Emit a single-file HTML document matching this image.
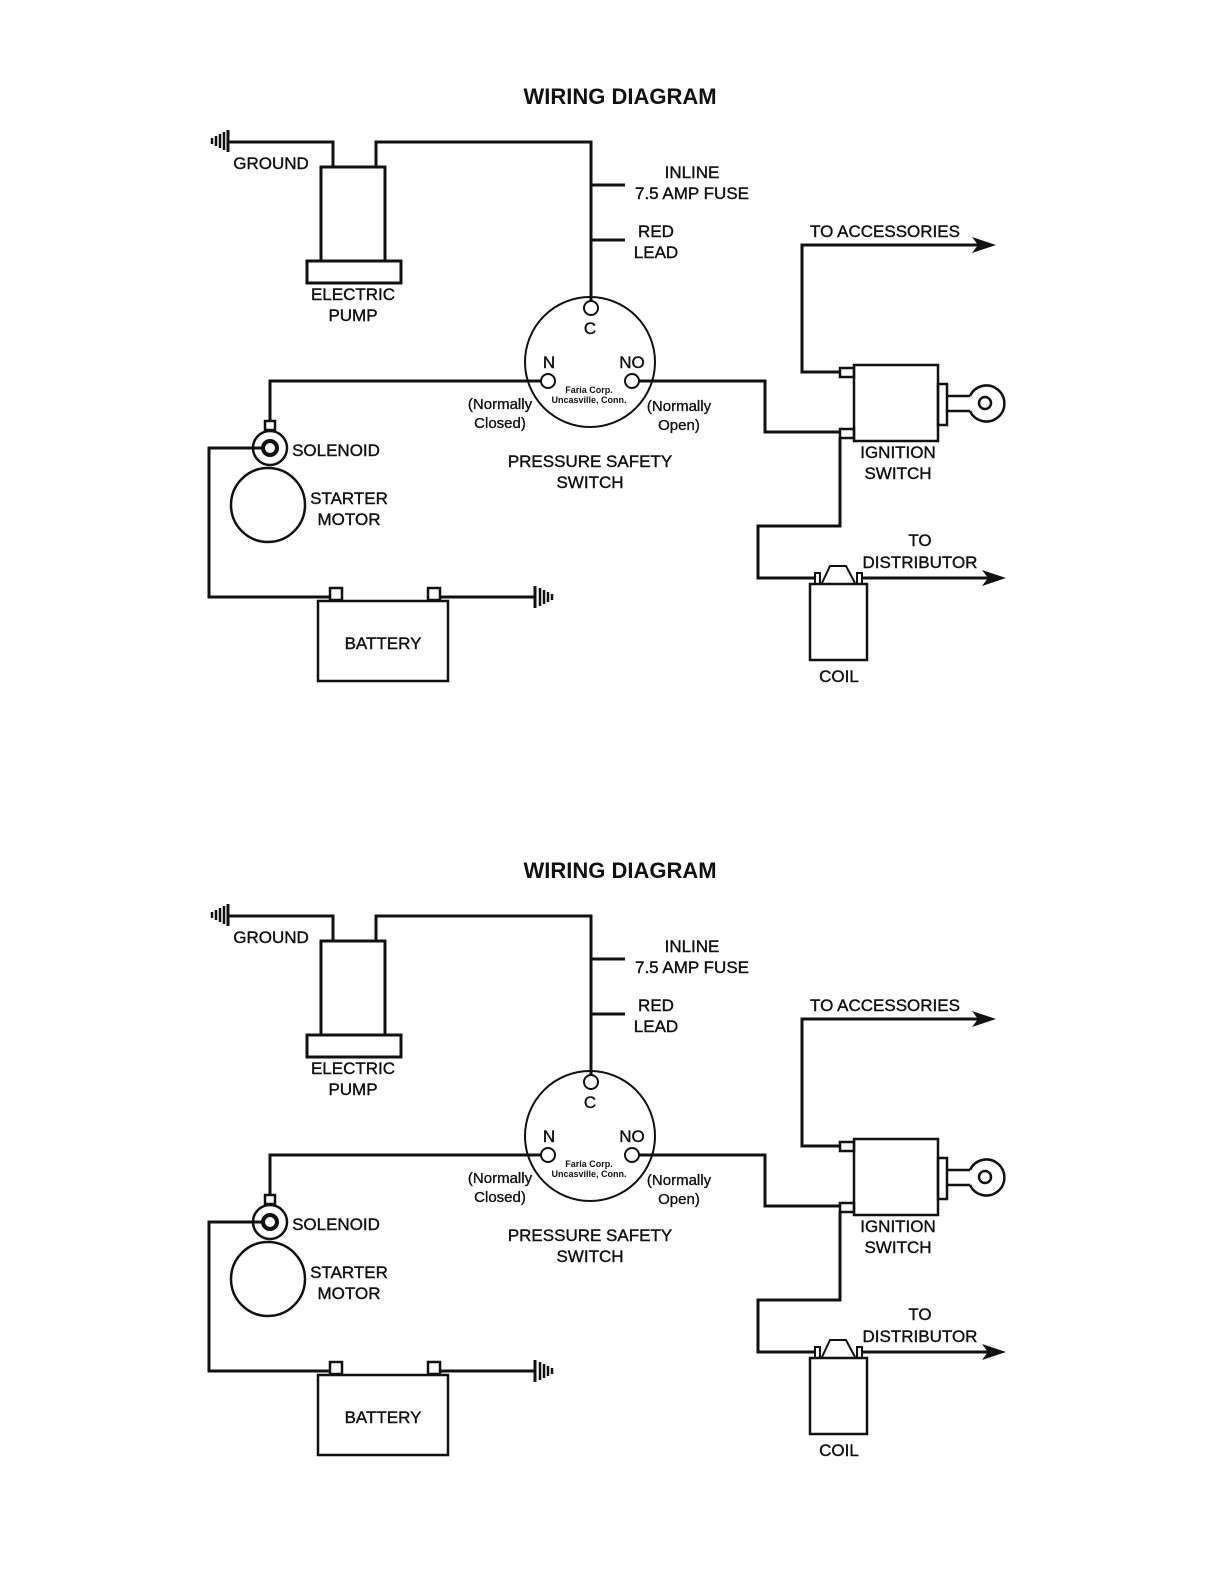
<!DOCTYPE html>
<html><head><meta charset="utf-8"><style>
html,body{margin:0;padding:0;background:#fff;width:1224px;height:1584px;overflow:hidden}
svg{display:block;position:absolute;left:0;top:0}
text{font-family:"Liberation Sans",Arial,sans-serif;fill:#111;text-anchor:middle}
.l{font-size:17px;stroke:#111;stroke-width:0.4}
.s{font-size:15px;stroke:#111;stroke-width:0.35}
.t{font-size:9px;font-weight:bold}
</style></head><body>
<svg width="1224" height="1584" xmlns="http://www.w3.org/2000/svg">
<defs>
<g id="d" fill="none" stroke="#111" stroke-width="3">
  <text x="620" y="104" style="font-size:22px;font-weight:bold;stroke:none">WIRING DIAGRAM</text>
  <g stroke-width="2.5"><line x1="212" y1="138" x2="212" y2="144"/><line x1="216" y1="136" x2="216" y2="146"/><line x1="220" y1="134" x2="220" y2="148"/><line x1="224" y1="132" x2="224" y2="150"/></g>
  <line x1="228" y1="130" x2="228" y2="152" stroke-width="3"/>
  <polyline points="228,142 333,142 333,167"/>
  <rect x="321" y="167" width="64" height="94" fill="#fff"/>
  <rect x="307" y="261" width="94" height="22" fill="#fff"/>
  <polyline points="376,167 376,142 591,142 591,301"/>
  <line x1="591" y1="185" x2="625" y2="185"/>
  <line x1="591" y1="240" x2="625" y2="240"/>
  <circle cx="590" cy="362" r="65" stroke-width="2"/>
  <circle cx="591" cy="308" r="7" fill="#fff" stroke-width="2"/>
  <circle cx="548" cy="381" r="7" fill="#fff" stroke-width="2"/>
  <circle cx="632" cy="381" r="7" fill="#fff" stroke-width="2"/>
  <polyline points="541,381 270,381 270,423"/>
  <polyline points="639,381 765,381 765,432 840,432"/>
  <rect x="265" y="421" width="10" height="9" fill="#fff" stroke-width="2.5"/>
  <circle cx="270" cy="448" r="17" fill="#fff" stroke-width="2.5"/>
  <circle cx="270" cy="448" r="7" stroke-width="4"/>
  <circle cx="268" cy="505" r="37" stroke-width="2.5"/>
  <polyline points="263,448 209,448 209,597 331,597"/>
  <rect x="330" y="588" width="12" height="12" fill="#fff" stroke-width="2.5"/>
  <rect x="428" y="588" width="12" height="12" fill="#fff" stroke-width="2.5"/>
  <rect x="318" y="601" width="130" height="80" stroke-width="2.5"/>
  <line x1="440" y1="597" x2="535" y2="597"/>
  <line x1="535" y1="586" x2="535" y2="608"/>
  <g stroke-width="2.5"><line x1="540" y1="588" x2="540" y2="606"/><line x1="544" y1="590" x2="544" y2="604"/><line x1="548" y1="592" x2="548" y2="602"/><line x1="552" y1="594" x2="552" y2="600"/></g>
  <rect x="854" y="365" width="84" height="76" stroke-width="2.5"/>
  <rect x="840" y="368" width="14" height="9" stroke-width="2.5"/>
  <rect x="840" y="429" width="14" height="9" stroke-width="2.5"/>
  <rect x="938" y="384" width="9" height="41" stroke-width="2.5"/>
  <line x1="947" y1="396" x2="970" y2="396" stroke-width="2.5"/>
  <line x1="947" y1="411" x2="970" y2="411" stroke-width="2.5"/>
  <path d="M970,396 A18,18 0 1 1 970,411" stroke-width="2.5"/>
  <circle cx="985" cy="403" r="6" stroke-width="2.5"/>
  <polyline points="840,372 802,372 802,245 980,245"/>
  <polygon points="996,245 972,237 978,245 972,253" fill="#111" stroke="none"/>
  <polyline points="840,437 840,526 758,526 758,578 816,578"/>
  <rect x="815" y="573" width="5" height="11" stroke-width="2"/>
  <rect x="857" y="573" width="5" height="11" stroke-width="2"/>
  <path d="M822,583 L830,566 L846,566 L855,583" stroke-width="2"/>
  <rect x="810" y="584" width="57" height="76" stroke-width="2.5"/>
  <line x1="862" y1="578" x2="990" y2="578"/>
  <polygon points="1006,578 982,570 988,578 982,586" fill="#111" stroke="none"/>
  <g stroke="none">
  <text class="l" x="271" y="169">GROUND</text>
  <text class="l" x="692" y="178">INLINE</text>
  <text class="l" x="692" y="199">7.5 AMP FUSE</text>
  <text class="l" x="656" y="237">RED</text>
  <text class="l" x="656" y="258">LEAD</text>
  <text class="l" x="353" y="300">ELECTRIC</text>
  <text class="l" x="353" y="321">PUMP</text>
  <text class="l" x="885" y="237">TO ACCESSORIES</text>
  <text class="l" x="590" y="334">C</text>
  <text class="l" x="549" y="368">N</text>
  <text class="l" x="632" y="368">NO</text>
  <text class="t" x="589" y="393">Faria Corp.</text>
  <text class="t" x="589" y="403">Uncasville, Conn.</text>
  <text class="s" x="500" y="409">(Normally</text>
  <text class="s" x="500" y="428">Closed)</text>
  <text class="s" x="679" y="411">(Normally</text>
  <text class="s" x="679" y="430">Open)</text>
  <text class="l" x="590" y="467">PRESSURE SAFETY</text>
  <text class="l" x="590" y="488">SWITCH</text>
  <text class="l" x="898" y="458">IGNITION</text>
  <text class="l" x="898" y="479">SWITCH</text>
  <text class="l" x="336" y="456">SOLENOID</text>
  <text class="l" x="349" y="504">STARTER</text>
  <text class="l" x="349" y="525">MOTOR</text>
  <text class="l" x="383" y="649">BATTERY</text>
  <text class="l" x="920" y="546">TO</text>
  <text class="l" x="920" y="568">DISTRIBUTOR</text>
  <text class="l" x="839" y="682">COIL</text>
  </g>
</g>
</defs>
<use href="#d"/>
<use href="#d" transform="translate(0,774)"/>
</svg>
</body></html>
